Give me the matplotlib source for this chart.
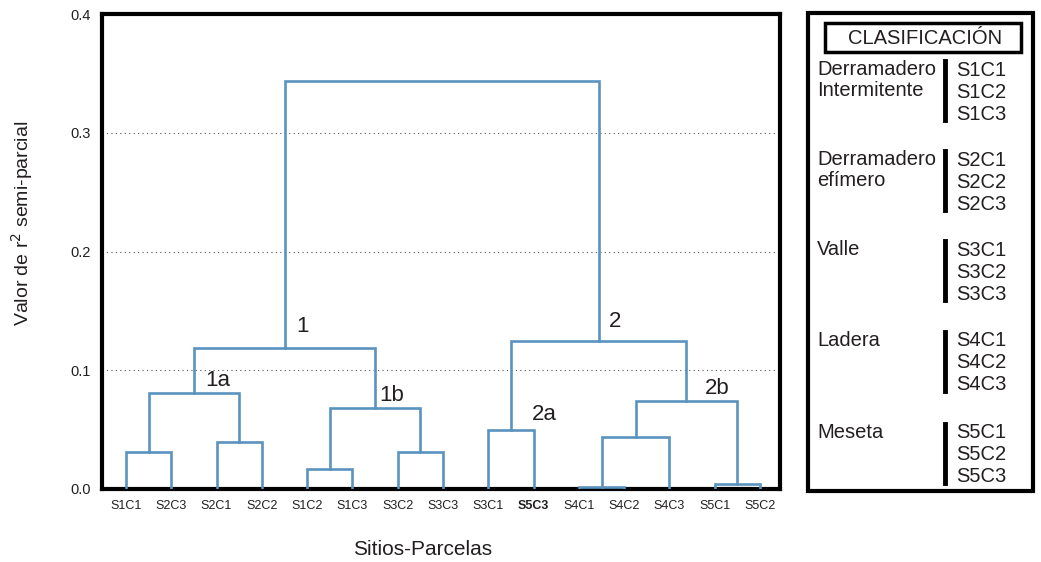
import numpy as np
import matplotlib.pyplot as plt
from matplotlib.patches import Rectangle

plt.rcParams['font.family'] = ['Liberation Sans', 'DejaVu Sans']

# Hojas del dendrograma (orden de aparición en el eje x)
hojas = ['S1C1', 'S2C3', 'S2C1', 'S2C2', 'S1C2', 'S1C3', 'S3C2', 'S3C3',
         'S3C1', 'S5C3', 'S4C1', 'S4C2', 'S4C3', 'S5C1', 'S5C2']

# Uniones: (nodo izquierdo, nodo derecho, valor de r2 semi-parcial)
# los nodos 0-14 son hojas, cada unión crea el nodo 15, 16, ...
uniones = [
    (0, 1, 0.031),
    (2, 3, 0.040),
    (4, 5, 0.017),
    (6, 7, 0.031),
    (8, 9, 0.050),
    (10, 11, 0.002),
    (20, 12, 0.044),
    (13, 14, 0.004),
    (17, 18, 0.068),
    (15, 16, 0.081),
    (21, 22, 0.074),
    (24, 23, 0.119),
    (19, 25, 0.125),
    (26, 27, 0.344),
]

# Etiquetas de grupos: nodo -> texto, desplazamiento (pt)
etiquetas = {26: ('1', (13, 15)), 24: ('1a', (17, 9)), 23: ('1b', (12, 9)),
             27: ('2', (12, 14)), 19: ('2a', (24, 11)), 25: ('2b', (22, 9))}

# Clasificación de sitios
grupos = ['Derramadero\nIntermitente', 'Derramadero\nefímero', 'Valle', 'Ladera', 'Meseta']
parcelas = [['S1C1', 'S1C2', 'S1C3'], ['S2C1', 'S2C2', 'S2C3'], ['S3C1', 'S3C2', 'S3C3'],
            ['S4C1', 'S4C2', 'S4C3'], ['S5C1', 'S5C2', 'S5C3']]

azul = '#5b93bf'
gris = '#231f20'

fig = plt.figure(figsize=(10.41, 5.62), dpi=100)
ax = fig.add_axes([102 / 1041, 73 / 562, 678 / 1041, 475 / 562])

# posiciones de los nodos
pos_x = {i: float(i) for i in range(len(hojas))}
pos_y = {i: 0.0 for i in range(len(hojas))}
for k, (a, b, h) in enumerate(uniones):
    nodo = len(hojas) + k
    ax.plot([pos_x[a], pos_x[a], pos_x[b], pos_x[b]], [pos_y[a], h, h, pos_y[b]],
            color=azul, lw=1.9, solid_joinstyle='miter', zorder=3)
    pos_x[nodo] = (pos_x[a] + pos_x[b]) / 2
    pos_y[nodo] = h

for nodo, (txt, off) in etiquetas.items():
    ax.annotate(txt, (pos_x[nodo], pos_y[nodo]), xytext=off, textcoords='offset points',
                ha='center', va='center', fontsize=16, color=gris)

ax.set_xlim(-0.53, 14.44)
ax.set_ylim(0, 0.4)
ax.set_yticks([0, 0.1, 0.2, 0.3, 0.4])
ax.set_yticklabels(['0.0', '0.1', '0.2', '0.3', '0.4'], fontsize=10.5, color=gris)
ax.set_xticks(range(len(hojas)))
ax.set_xticklabels(hojas, fontsize=9, color=gris)
ax.get_xticklabels()[hojas.index('S5C3')].set_fontweight('bold')
ax.tick_params(length=0, pad=8)
for y in [0.1, 0.2, 0.3]:
    ax.axhline(y, color='#555555', lw=0.8, ls=(0, (1, 3)), zorder=1)
for s in ax.spines.values():
    s.set_linewidth(3)
    s.set_color('black')

ax.set_xlabel('Sitios-Parcelas', fontsize=15, color=gris, va='center')
ax.xaxis.set_label_coords(0.473, -0.128)
ax.set_ylabel('Valor de r$^2$ semi-parcial', fontsize=14, color=gris, va='center')
ax.yaxis.set_label_coords(-0.118, 0.56)

# panel de clasificación (coordenadas en píxeles)
pan = fig.add_axes([0, 0, 1, 1])
pan.set_xlim(0, 1041)
pan.set_ylim(562, 0)
pan.axis('off')
pan.add_patch(Rectangle((808, 13), 225, 478, fill=False, lw=3, ec='black'))
pan.add_patch(Rectangle((825, 23), 196, 29, fill=False, lw=2.5, ec='black'))
pan.text(925, 38, 'CLASIFICACIÓN', ha='center', va='center', fontsize=14.5, color=gris)

y0 = [70, 160, 250, 341, 433]
for g, cods, yy in zip(grupos, parcelas, y0):
    pan.text(817, yy - 10, g, ha='left', va='top', fontsize=14.5, color=gris,
             linespacing=1.1)
    for j, c in enumerate(cods):
        pan.text(956, yy + 22 * j, c, ha='left', va='center', fontsize=14.5, color=gris)
    pan.plot([945, 945], [yy - 9, yy + 50], color='black', lw=3.5)

fig.savefig('out.png', dpi=100)
